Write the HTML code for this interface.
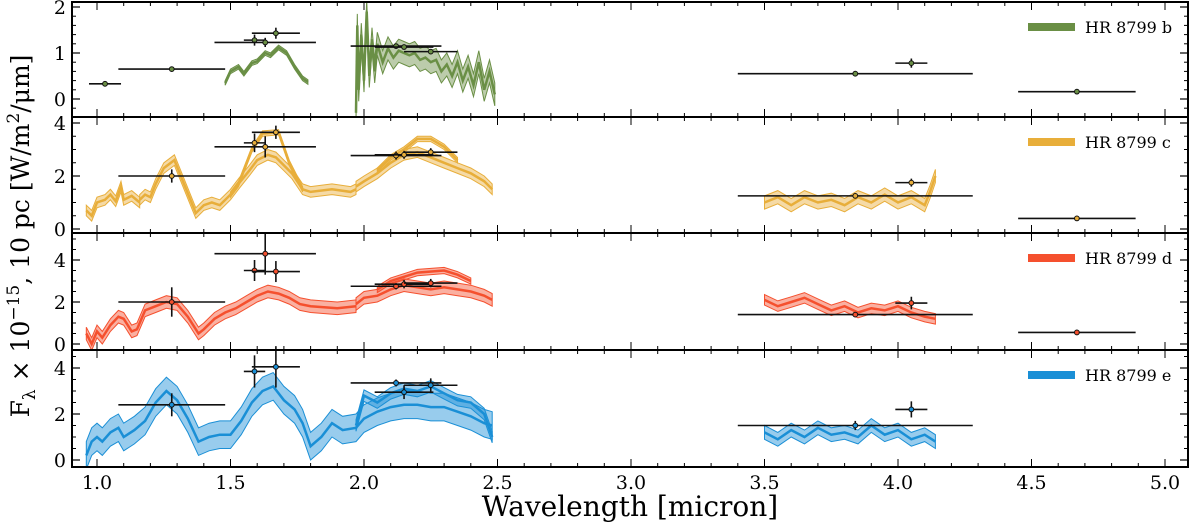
<!DOCTYPE html>
<html><head><meta charset="utf-8">
<style>
html,body{margin:0;padding:0;background:#fff;}
svg{display:block;font-family:"DejaVu Serif","Liberation Serif",serif;}
</style></head>
<body>
<svg id="chart" width="1200" height="524" viewBox="0 0 1200 524" xmlns="http://www.w3.org/2000/svg">
<text x="630" y="516" font-size="28" text-anchor="middle">Wavelength [micron]</text>
<text transform="translate(29,236) rotate(-90)" font-size="25" text-anchor="middle">F<tspan font-size="17" dy="6">λ</tspan><tspan dy="-6"> × 10</tspan><tspan font-size="17" dy="-10">−15</tspan><tspan dy="10">, 10 pc [W/m</tspan><tspan font-size="17" dy="-10">2</tspan><tspan dy="10">/μm]</tspan></text>
</svg>
<script>
// ---------- data ----------
const planetNames = ["HR 8799 b","HR 8799 c","HR 8799 d","HR 8799 e"];
const xTicks = [1.0,1.5,2.0,2.5,3.0,3.5,4.0,4.5,5.0];
const xTickLabels = ["1.0","1.5","2.0","2.5","3.0","3.5","4.0","4.5","5.0"];
const bTicks = [0,1,2];
const cTicks = [0,2,4];
const dTicks = [0,2,4];
const eTicks = [0,2,4];

const bSegH = [[1.48,0.35],[1.5,0.6],[1.53,0.7],[1.55,0.55],[1.58,0.78],[1.6,0.82],[1.63,1.0],[1.65,0.95],[1.68,1.12],[1.71,1.0],[1.74,0.7],[1.77,0.45],[1.79,0.37]];
const bSegK = [[1.97,-0.3],[1.975,1.6],[1.98,0.2],[1.99,1.4],[2.0,0.4],[2.01,1.9],[2.02,0.5],[2.03,1.3],[2.04,0.6],[2.05,1.2],[2.07,0.8],[2.09,1.1],[2.11,0.9],[2.13,1.05],[2.15,1.0],[2.17,0.95],[2.19,1.0],[2.21,0.85],[2.23,0.9],[2.25,0.8],[2.27,0.85],[2.29,0.6],[2.31,0.75],[2.33,0.5],[2.35,0.8],[2.37,0.4],[2.39,0.7],[2.41,0.3],[2.43,0.8],[2.45,0.2],[2.47,0.6],[2.49,0.1]];
const bWidths = [0.05,0.25];

const cSegY = [[0.96,0.7],[0.98,0.5],[1.0,1.0],[1.03,1.1],[1.05,1.3],[1.07,1.05],[1.09,1.6],[1.1,1.1],[1.13,1.25],[1.16,1.0]];
const cSegJH = [[1.16,1.1],[1.18,1.3],[1.2,1.2],[1.22,1.7],[1.25,2.3],[1.29,2.6],[1.33,1.6],[1.37,0.6],[1.4,0.9],[1.43,1.0],[1.46,0.9],[1.5,1.3],[1.53,1.7],[1.57,2.2],[1.6,2.6],[1.64,2.8],[1.67,2.7],[1.7,2.4],[1.73,2.1],[1.77,1.5],[1.8,1.4],[1.88,1.5],[1.95,1.4],[1.97,1.5]];
const cSegHalt = [[1.5,1.3],[1.53,1.7],[1.58,3.0],[1.62,3.6],[1.68,3.65],[1.72,2.5],[1.77,1.5]];
const cSegK = [[1.97,1.6],[2.0,1.8],[2.05,2.1],[2.1,2.5],[2.15,2.8],[2.2,2.9],[2.25,2.7],[2.3,2.5],[2.35,2.3],[2.4,2.1],[2.45,1.8],[2.48,1.5]];
const cSegKalt = [[2.05,2.2],[2.1,2.7],[2.15,3.0],[2.2,3.4],[2.25,3.4],[2.3,3.1],[2.35,2.6]];
const cSegL = [[3.5,1.0],[3.55,1.2],[3.6,0.9],[3.65,1.2],[3.7,1.0],[3.75,1.1],[3.8,0.9],[3.85,1.2],[3.9,1.0],[3.95,1.3],[4.0,1.0],[4.05,1.2],[4.1,0.9],[4.12,1.4],[4.14,2.0]];
const cWidths = [0.2,0.2,0.1,0.2,0.1,0.25];

const dSegJH = [[0.96,0.5],[0.98,0.0],[1.0,0.6],[1.02,0.3],[1.05,0.9],[1.08,1.3],[1.1,1.2],[1.13,0.6],[1.15,0.7],[1.18,1.6],[1.22,1.8],[1.26,2.0],[1.3,1.9],[1.34,1.3],[1.38,0.5],[1.4,0.7],[1.44,1.2],[1.48,1.5],[1.52,1.7],[1.56,2.0],[1.6,2.3],[1.64,2.5],[1.68,2.4],[1.72,2.2],[1.76,1.9],[1.8,1.8],[1.9,1.7],[1.97,1.8]];
const dSegK = [[1.97,1.9],[2.0,2.2],[2.05,2.3],[2.1,2.6],[2.15,2.8],[2.2,2.7],[2.25,2.6],[2.3,2.7],[2.35,2.6],[2.4,2.5],[2.45,2.3],[2.48,2.1]];
const dSegKalt = [[2.05,2.6],[2.1,3.0],[2.2,3.4],[2.3,3.5],[2.35,3.3],[2.4,3.0]];
const dSegL = [[3.5,2.1],[3.55,1.8],[3.6,2.0],[3.65,2.2],[3.7,1.9],[3.75,1.6],[3.8,1.8],[3.85,1.5],[3.9,1.7],[3.95,1.6],[4.0,1.8],[4.05,1.5],[4.1,1.3],[4.14,1.2]];
const dWidths = [0.3,0.3,0.15,0.25];

const eSegAll = [[0.96,0.2],[0.98,0.8],[1.0,1.0],[1.02,0.8],[1.05,1.2],[1.08,1.4],[1.1,1.0],[1.14,1.3],[1.18,1.7],[1.22,2.5],[1.26,3.0],[1.3,2.6],[1.34,1.8],[1.38,0.8],[1.42,1.0],[1.46,1.1],[1.5,1.1],[1.54,1.7],[1.58,2.5],[1.62,3.0],[1.66,3.2],[1.7,2.6],[1.74,2.2],[1.77,1.6],[1.8,0.6],[1.84,1.0],[1.88,1.6],[1.92,1.3],[1.97,1.4],[2.0,1.8],[2.05,2.1],[2.1,2.3],[2.15,2.4],[2.2,2.4],[2.25,2.3],[2.3,2.3],[2.35,2.1],[2.4,1.9],[2.45,1.6],[2.48,1.5]];
const eSegK = [[1.97,1.5],[2.0,2.8],[2.05,2.5],[2.1,2.9],[2.15,3.1],[2.2,3.0],[2.25,3.2],[2.3,2.9],[2.35,2.6],[2.4,2.5],[2.45,2.0],[2.48,1.0]];
const eSegL = [[3.5,1.2],[3.55,0.9],[3.6,1.3],[3.65,1.0],[3.7,1.4],[3.75,1.1],[3.8,1.2],[3.85,1.0],[3.9,1.5],[3.95,1.1],[4.0,1.3],[4.05,0.9],[4.1,1.1],[4.14,0.8]];
const eWidths = [0.6,0.25,0.3];

const bPhot = [[1.03,0.06,0.33,0.05],[1.28,0.2,0.65,0.03],[1.59,0.04,1.28,0.12],[1.63,0.19,1.23,0.1],[1.67,0.09,1.43,0.12],[2.12,0.17,1.15,0.05],[2.15,0.11,1.13,0.05],[2.25,0.1,1.03,0.05],[3.84,0.44,0.55,0.03],[4.05,0.06,0.78,0.1],[4.67,0.22,0.16,0.03]];
const cPhot = [[1.28,0.2,2.0,0.25],[1.59,0.04,3.25,0.35],[1.63,0.19,3.1,0.4],[1.67,0.09,3.65,0.25],[2.12,0.17,2.77,0.15],[2.15,0.11,2.8,0.15],[2.25,0.1,2.9,0.15],[3.84,0.44,1.25,0.05],[4.05,0.06,1.75,0.15],[4.67,0.22,0.4,0.05]];
const dPhot = [[1.28,0.2,2.0,0.7],[1.59,0.04,3.5,0.5],[1.63,0.19,4.3,1.0],[1.67,0.09,3.45,0.5],[2.12,0.17,2.75,0.15],[2.15,0.11,2.85,0.2],[2.25,0.1,2.9,0.2],[3.84,0.44,1.4,0.1],[4.05,0.06,1.95,0.3],[4.67,0.22,0.55,0.05]];
const ePhot = [[1.28,0.2,2.4,0.5],[1.59,0.04,3.85,0.7],[1.67,0.09,4.05,0.9],[2.12,0.17,3.35,0.15],[2.15,0.11,2.95,0.3],[2.25,0.1,3.25,0.3],[3.84,0.44,1.5,0.2],[4.05,0.06,2.2,0.35]];

// ---------- layout ----------
const NS="http://www.w3.org/2000/svg";
const svg=document.getElementById('chart');
const X0=72,X1=1188;
const xs=w=>97+267*(w-1);
const colors=["#6a8f45","#e8ae3a","#f5502e","#1a8fd6"];
const panels=[
 {top:2,bot:117,v0:99,ppu:46,ticks:bTicks,minor:0.2,segs:[bSegH,bSegK],widths:bWidths,phot:bPhot},
 {top:117,bot:233,v0:229,ppu:26.5,ticks:cTicks,minor:0.5,segs:[cSegY,cSegJH,cSegHalt,cSegK,cSegKalt,cSegL],widths:cWidths,phot:cPhot},
 {top:233,bot:350,v0:344,ppu:21,ticks:dTicks,minor:0.5,segs:[dSegJH,dSegK,dSegKalt,dSegL],widths:dWidths,phot:dPhot},
 {top:350,bot:467,v0:460,ppu:23,ticks:eTicks,minor:0.5,segs:[eSegAll,eSegK,eSegL],widths:eWidths,phot:ePhot}
];
function mk(tag,attrs){const e=document.createElementNS(NS,tag);for(const k in attrs)e.setAttribute(k,attrs[k]);svg.appendChild(e);return e;}

panels.forEach((p,i)=>{
  const ys=f=>p.v0-p.ppu*f;
  const col=colors[i];
  const cid='clip'+i;
  const cp=document.createElementNS(NS,'clipPath');cp.setAttribute('id',cid);
  const r=document.createElementNS(NS,'rect');r.setAttribute('x',X0);r.setAttribute('y',p.top);r.setAttribute('width',X1-X0);r.setAttribute('height',p.bot-p.top);
  cp.appendChild(r);svg.appendChild(cp);
  const g=document.createElementNS(NS,'g');g.setAttribute('clip-path','url(#'+cid+')');svg.appendChild(g);
  
  
  p.segs.forEach((seg,si)=>{
    const w=p.widths[si];
    const up=seg.map(d=>xs(d[0]).toFixed(1)+','+ys(d[1]+w).toFixed(1));
    const lo=seg.slice().reverse().map(d=>xs(d[0]).toFixed(1)+','+ys(d[1]-w).toFixed(1));
    const band=document.createElementNS(NS,'polygon');
    band.setAttribute('points',up.concat(lo).join(' '));
    band.setAttribute('fill',col);band.setAttribute('fill-opacity','0.45');
    band.setAttribute('stroke',col);band.setAttribute('stroke-width','1');
    
    
    g.appendChild(band);
    const ln=document.createElementNS(NS,'polyline');
    ln.setAttribute('points',seg.map(d=>xs(d[0]).toFixed(1)+','+ys(d[1]).toFixed(1)).join(' '));
    ln.setAttribute('fill','none');ln.setAttribute('stroke',col);ln.setAttribute('stroke-width','2.5');
    
    
    g.appendChild(ln);
  });
  p.phot.forEach(d=>{
    const cx=xs(d[0]),cy=ys(d[2]);
    const h=mk('line',{x1:xs(d[0]-d[1]),x2:xs(d[0]+d[1]),y1:cy,y2:cy,stroke:'#111','stroke-width':1.6});
    
    
    const v=mk('line',{x1:cx,x2:cx,y1:ys(d[2]-d[3]),y2:ys(d[2]+d[3]),stroke:'#111','stroke-width':1.6});
    
    
    const c=mk('circle',{cx:cx,cy:cy,r:2.4,fill:col,stroke:'#111','stroke-width':1});
    
    
  });
  p.ticks.forEach(t=>{
    const y=ys(t);
    mk('line',{x1:X0,x2:X0+8,y1:y,y2:y,stroke:'#000','stroke-width':1.2});
    mk('line',{x1:X1-8,x2:X1,y1:y,y2:y,stroke:'#000','stroke-width':1.2});
    const tl=mk('text',{x:X0-6,y:y+7,'font-size':19,'text-anchor':'end'});tl.textContent=t;
    
    
  });
  for(let v=-1;v<=5;v+=p.minor){const y=ys(v);if(y>p.top+1&&y<p.bot-1){
    mk('line',{x1:X0,x2:X0+4,y1:y,y2:y,stroke:'#000','stroke-width':1});
    mk('line',{x1:X1-4,x2:X1,y1:y,y2:y,stroke:'#000','stroke-width':1});}}
  for(let k=9;k<=51;k++){const w=k/10,x=xs(w);if(x<=X0||x>=X1)continue;const L=(k%5==0)?8:4;
    mk('line',{x1:x,x2:x,y1:p.top,y2:p.top+L,stroke:'#000','stroke-width':1});
    mk('line',{x1:x,x2:x,y1:p.bot-L,y2:p.bot,stroke:'#000','stroke-width':1});}
  const fr=mk('rect',{x:X0,y:p.top,width:X1-X0,height:p.bot-p.top,fill:'none',stroke:'#000','stroke-width':2});
  
  
  const ly=p.top+25;
  const ll=mk('line',{x1:1028,x2:1075,y1:ly,y2:ly,stroke:col,'stroke-width':8});
  
  
  const lt=mk('text',{x:1085,y:ly+6,'font-size':16});lt.textContent=planetNames[i];
  
  
});
xTicks.forEach((t,i)=>{
  const tl=mk('text',{x:xs(t),y:489,'font-size':19,'text-anchor':'middle'});tl.textContent=xTickLabels[i];
  
  
});
</script>
</body></html>
